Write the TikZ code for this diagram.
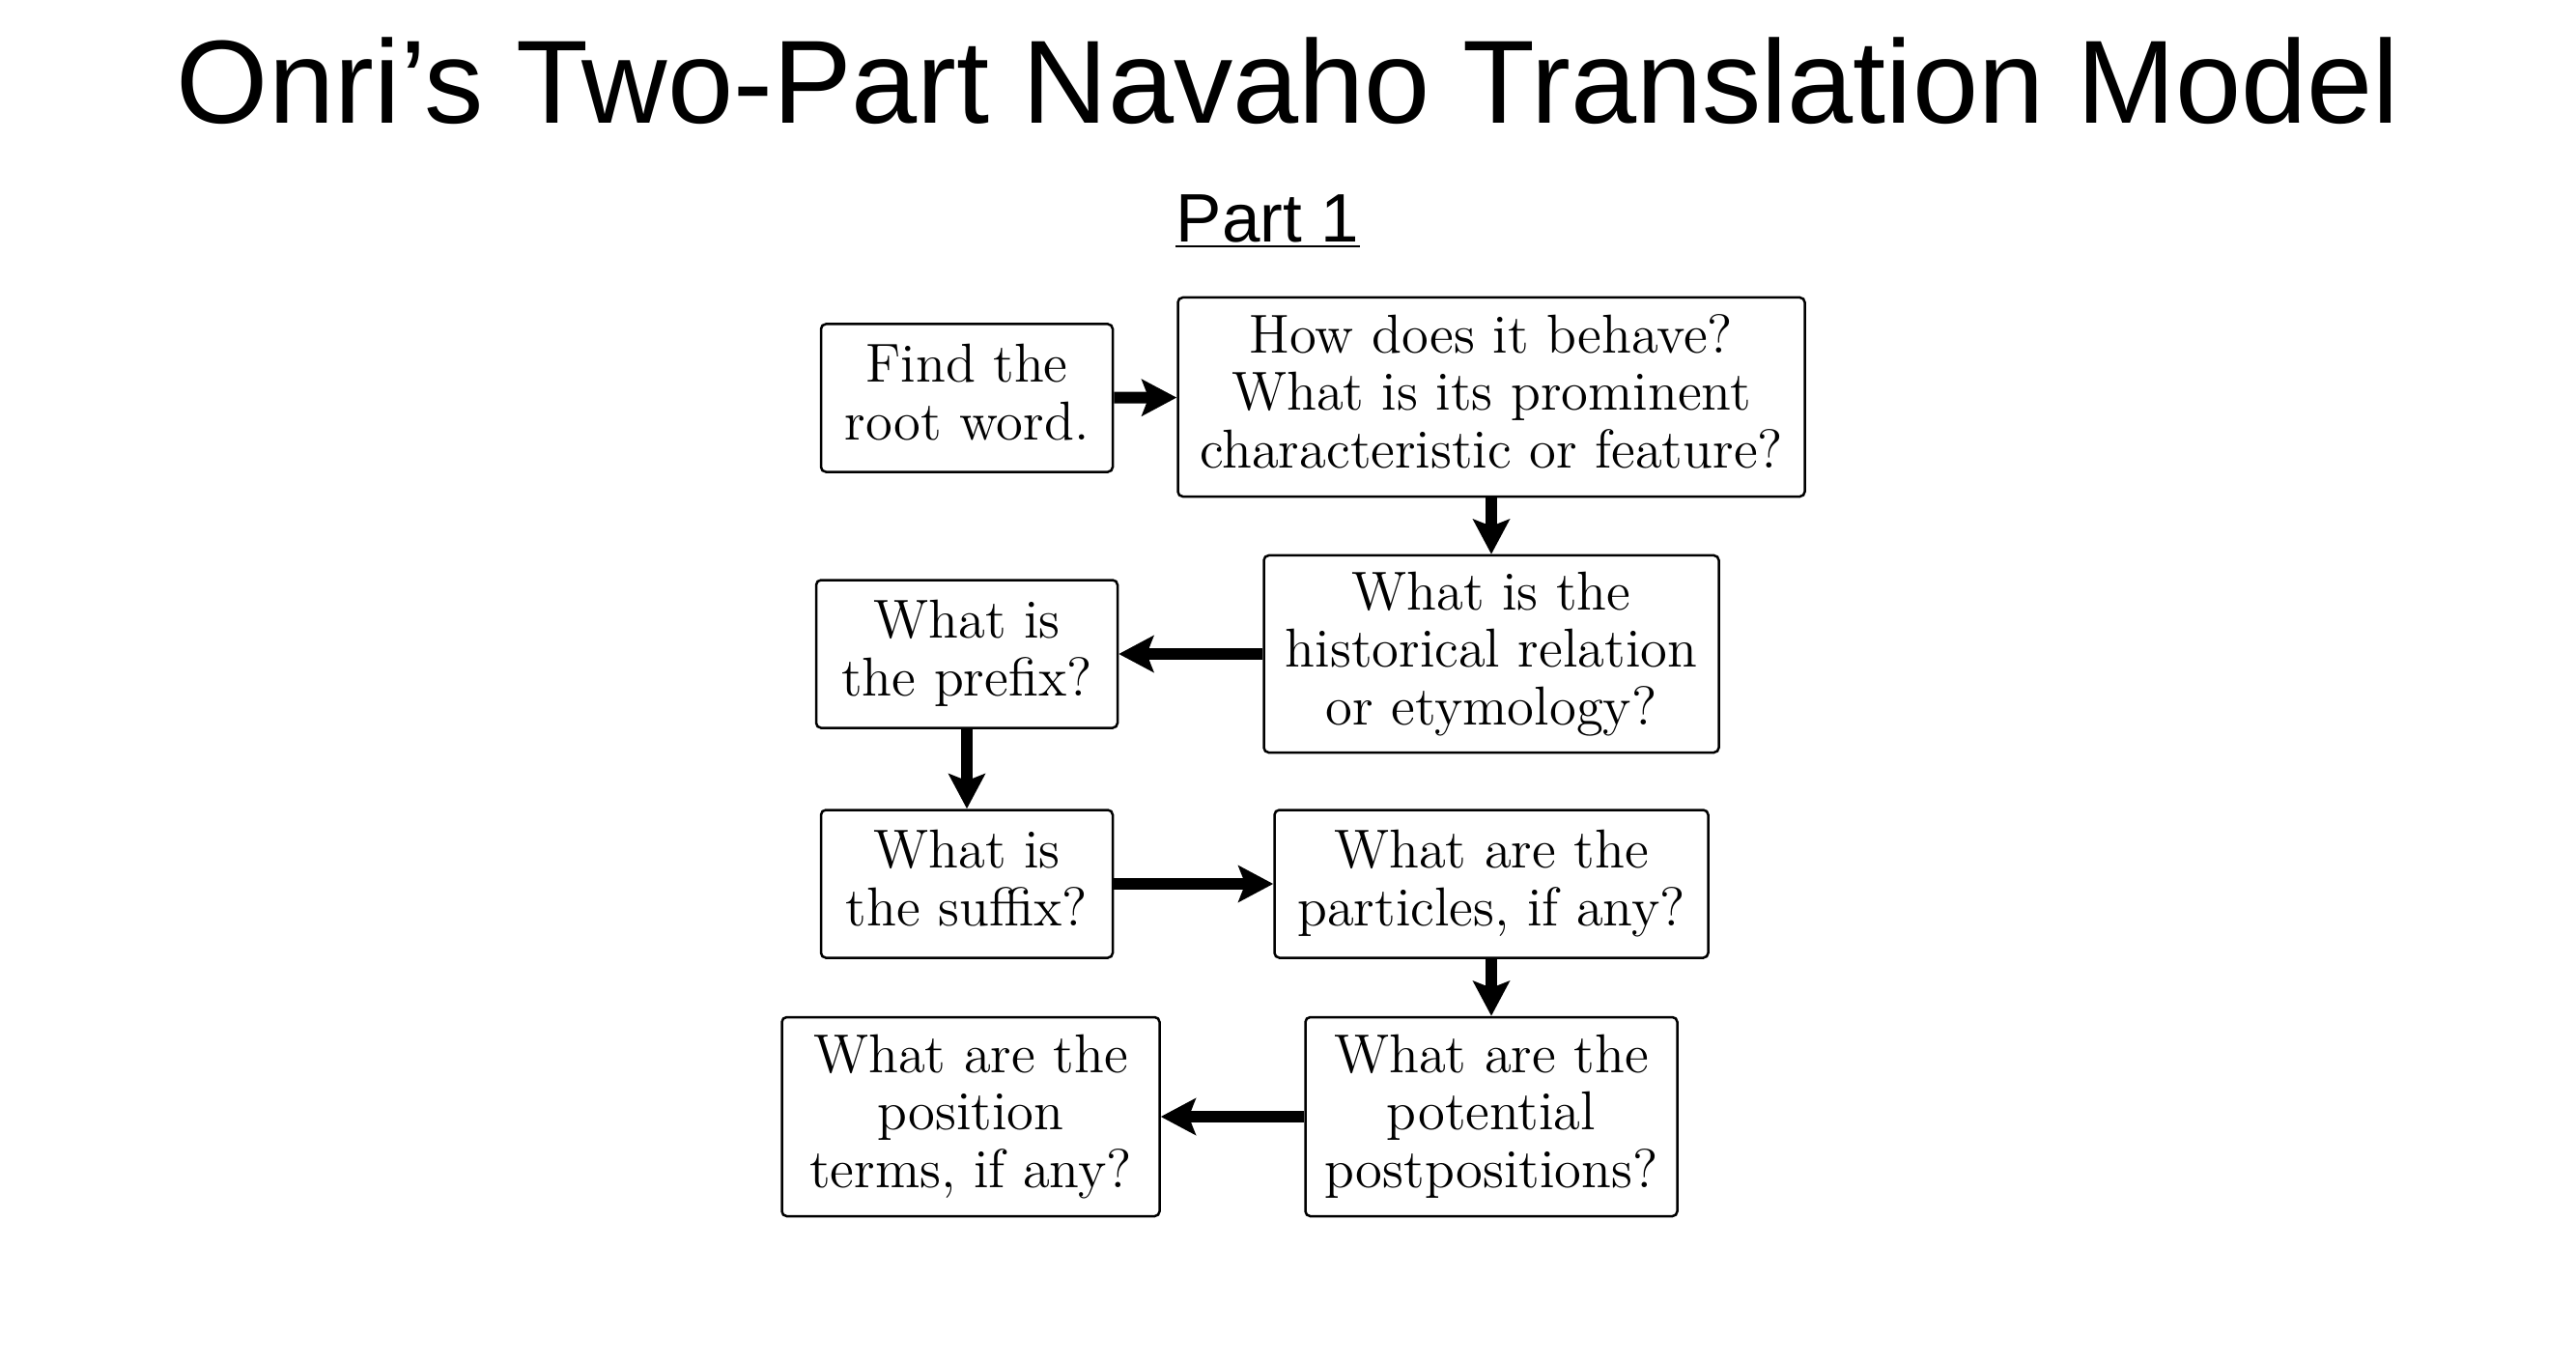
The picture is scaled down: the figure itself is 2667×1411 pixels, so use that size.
\documentclass[tikz,border=0pt]{standalone}
\usepackage{fontspec}
\usepackage{tikz}
\usetikzlibrary{arrows.meta}
\newfontfamily\headfont{Liberation Sans}

\begin{document}
\begin{tikzpicture}[
    x=0.2pt, y=-0.2pt,
    box/.style 2 args={draw, line width=0.5pt, rounded corners=1pt, align=center, inner xsep=3pt, inner ysep=2pt,
        font=\fontsize{11.35pt}{11.9pt}\selectfont, text depth=2.4pt, minimum width=#1, minimum height=#2},
    arrow/.style={-{Stealth[length=7.2pt, width=7.5pt, inset=1.4pt]}, line width=2.4pt},
]
\useasboundingbox (0,0) rectangle (2667,1411);

\node[font=\headfont\fontsize{24.5pt}{29pt}\selectfont, anchor=base, inner sep=0] (title) at (1333.5,128) {Onri’s Two-Part Navaho Translation Model};
\node[font=\headfont\fontsize{14.2pt}{17pt}\selectfont, anchor=base, inner sep=0] (part) at (1312.5,251) {Part 1};
\draw[line width=0.45pt] ([yshift=-0.8pt]part.base west) -- ([yshift=-0.8pt]part.base east);

% flow boxes
\node[box={60.4pt}{30.6pt}] (root) at (1001,412) {Find the\\root word.};
\node[box={129.8pt}{41.2pt}] (behave) at (1544,411) {How does it behave?\\What is its prominent\\characteristic or feature?};
\node[box={94.2pt}{40.8pt}] (history) at (1544,677) {What is the\\historical relation\\or etymology?};
\node[box={62.4pt}{30.6pt}] (prefix) at (1001,677) {What is\\the prefix?};
\node[box={60.4pt}{30.6pt}] (suffix) at (1001,915) {What is\\the suffix?};
\node[box={89.8pt}{30.6pt}] (particles) at (1544,915) {What are the\\particles, if any?};
\node[box={77.0pt}{41.2pt}] (postpos) at (1544,1156) {What are the\\potential\\postpositions?};
\node[box={78.2pt}{41.2pt}] (position) at (1005,1156) {What are the\\position\\terms, if any?};

\draw[arrow] (root) -- (behave);
\draw[arrow] (behave) -- (history);
\draw[arrow] (history) -- (prefix);
\draw[arrow] (prefix) -- (suffix);
\draw[arrow] (suffix) -- (particles);
\draw[arrow] (particles) -- (postpos);
\draw[arrow] (postpos) -- (position);
\end{tikzpicture}
\end{document}
